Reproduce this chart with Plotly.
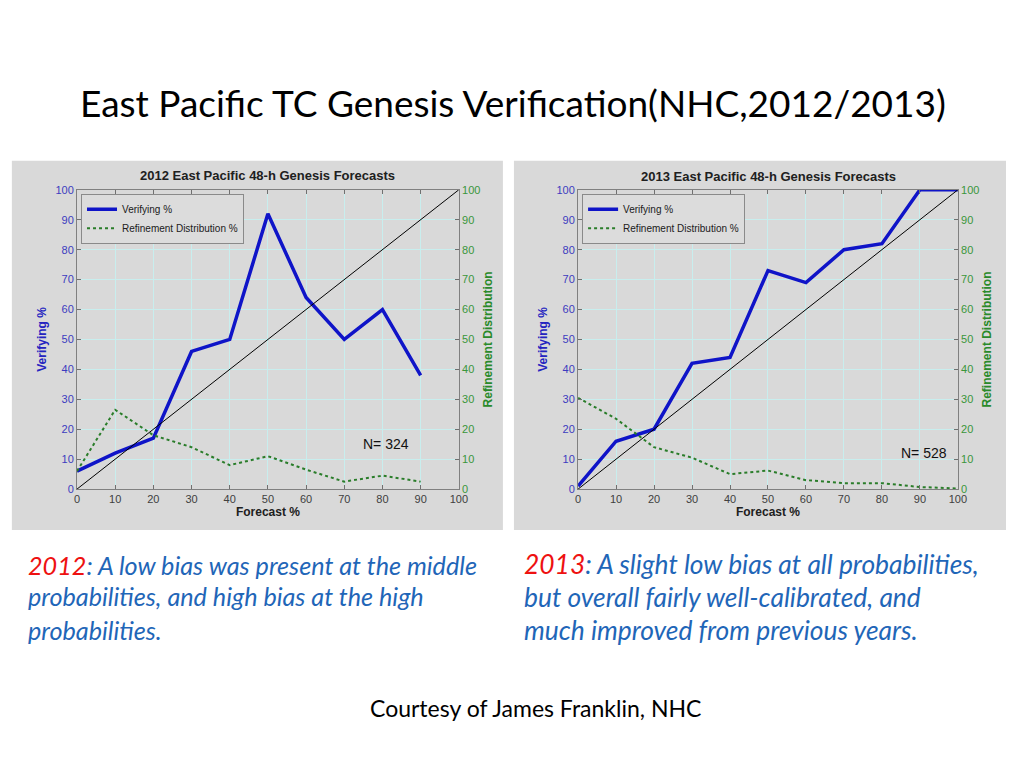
import plotly.graph_objects as go

# ---------------- data ----------------
forecast_2012 = [0, 10, 20, 30, 40, 50, 60, 70, 80, 90]
verifying_2012 = [6, 12, 17, 46, 50, 92, 64, 50, 60, 38]
refinement_2012 = [6, 26.5, 18, 14, 8, 11, 6.5, 2.5, 4.5, 2.5]

forecast_2013 = [0, 10, 20, 30, 40, 50, 60, 70, 80, 90, 100]
verifying_2013 = [1, 16, 20, 42, 44, 73, 69, 80, 82, 100, 100]
refinement_2013 = [30.5, 23.5, 14, 10.5, 5, 6.2, 3, 2, 2, 0.7, 0.2]

perfect = [0, 100]
tick_vals = list(range(0, 101, 10))

# ---------------- style ----------------
W, H = 1010, 740
SCALE = 0.986          # observed page-to-picture scale
OFFX, OFFY = 11.3, 13.0  # observed page offset of the figure
BLUE_LINE = "#0f14c8"
GREEN_LINE = "#2a7d2a"
BLUE_TXT = "#3c3cc0"
GREEN_TXT = "#3a963a"
CAP_BLUE = "#1f66b8"
ARIAL = "Liberation Sans, Arial, sans-serif"
CAL = "Lato, Open Sans, sans-serif"


def px_x(p):
    return (p / SCALE - OFFX) / W


def px_y(p):
    return 1 - (p / SCALE - OFFY) / H


fig = go.Figure()

panels = [
    dict(f=forecast_2012, v=verifying_2012, r=refinement_2012, xa="x", ya="y", ya2="y2", lg="legend"),
    dict(f=forecast_2013, v=verifying_2013, r=refinement_2013, xa="x2", ya="y3", ya2="y4", lg="legend2"),
]
for p in panels:
    fig.add_trace(go.Scatter(x=p["f"], y=p["v"], mode="lines", name="Verifying %",
                             line=dict(color=BLUE_LINE, width=3.5),
                             xaxis=p["xa"], yaxis=p["ya"], legend=p["lg"]))
    fig.add_trace(go.Scatter(x=p["f"], y=p["r"], mode="lines", name="Refinement Distribution %",
                             line=dict(color=GREEN_LINE, width=2, dash="dot"),
                             xaxis=p["xa"], yaxis=p["ya2"], legend=p["lg"]))
    fig.add_trace(go.Scatter(x=perfect, y=perfect, mode="lines", showlegend=False,
                             line=dict(color="black", width=1),
                             xaxis=p["xa"], yaxis=p["ya"]))

ydom = [px_y(489), px_y(189)]
xdom1 = [px_x(77), px_x(458)]
xdom2 = [px_x(577), px_x(956)]

GRID = "#c8eeee"
common_x = dict(range=[0, 100], tickvals=tick_vals, ticks="inside", ticklen=4,
                tickcolor="#707070", showline=True, linecolor="#808080", mirror="ticks",
                showgrid=True, gridcolor=GRID, gridwidth=1, zeroline=False,
                tickfont=dict(family=ARIAL, size=11, color="#404040"),
                title=dict(text="<b>Forecast %</b>", font=dict(family=ARIAL, size=12, color="#202020"),
                           standoff=2))
common_yl = dict(range=[0, 100], tickvals=tick_vals, ticks="inside", ticklen=4,
                 tickcolor="#707070", showline=True, linecolor="#808080",
                 showgrid=True, gridcolor=GRID, gridwidth=1, zeroline=False,
                 tickfont=dict(family=ARIAL, size=11, color=BLUE_TXT),
                 title=dict(text="<b>Verifying %</b>", font=dict(family=ARIAL, size=12, color="#2424c0"),
                            standoff=6))
common_yr = dict(range=[0, 100], tickvals=tick_vals, ticks="inside", ticklen=4,
                 tickcolor="#707070", showline=True, linecolor="#808080",
                 showgrid=False, zeroline=False, side="right",
                 tickfont=dict(family=ARIAL, size=11, color=GREEN_TXT),
                 title=dict(text="<b>Refinement Distribution</b>",
                            font=dict(family=ARIAL, size=12, color="#2a8a2a"), standoff=4))

legend_style = dict(bgcolor="#dcdcdc", bordercolor="#8a8a8a", borderwidth=1,
                    font=dict(family=ARIAL, size=10, color="#202020"),
                    xanchor="left", yanchor="top", tracegroupgap=0, itemwidth=30)


def ann(text, x, y, size, color, family=ARIAL, xanchor="center", xref="paper", yref="paper"):
    return dict(text=text, x=x, y=y, xref=xref, yref=yref, xanchor=xanchor, yanchor="middle",
                showarrow=False, font=dict(family=family, size=size, color=color))


annotations = [
    ann("<b>2012 East Pacific 48-h Genesis Forecasts</b>", px_x(267), px_y(175), 13, "#202020"),
    ann("<b>2013 East Pacific 48-h Genesis Forecasts</b>", px_x(767), px_y(176), 13, "#202020"),
    ann("N= 324", 81, 15, 14, "#111111", xref="x", yref="y"),
    ann("N= 528", 91, 12, 14, "#111111", xref="x2", yref="y3"),
    ann("East Pacific TC Genesis Verification(NHC,2012/2013)", px_x(512), px_y(102), 37, "black", family=CAL),
    ann("Courtesy of James Franklin, NHC", px_x(535), px_y(708), 23, "black", family=CAL),
]

captions = [
    (26, 565, 25.2, "<span style='color:#ee1111'>2012</span>: A low bias was present at the middle"),
    (26, 596, 25.2, "probabilities, and high bias at the high"),
    (26, 630, 25.2, "probabilities."),
    (521, 564, 26.4, "<span style='color:#ee1111'>2013</span>: A slight low bias at all probabilities,"),
    (521, 597, 26.4, "but overall fairly well-calibrated, and"),
    (521, 630, 26.4, "much improved from previous years."),
]
for cx, cy, size, txt in captions:
    annotations.append(ann("<i>" + txt + "</i>", px_x(cx), px_y(cy), size, CAP_BLUE,
                           family=CAL, xanchor="left"))

shapes = [
    dict(type="rect", xref="paper", yref="paper", x0=px_x(12), x1=px_x(502), y0=px_y(530), y1=px_y(160),
         fillcolor="#d9d9d9", line=dict(width=0), layer="below"),
    dict(type="rect", xref="paper", yref="paper", x0=px_x(513), x1=px_x(1004), y0=px_y(530), y1=px_y(160),
         fillcolor="#d9d9d9", line=dict(width=0), layer="below"),
]

fig.update_layout(
    width=W, height=H, margin=dict(l=0, r=0, t=0, b=0),
    paper_bgcolor="white", plot_bgcolor="#d0ffff",
    xaxis=dict(domain=xdom1, anchor="y", **common_x),
    yaxis=dict(domain=ydom, anchor="x", **common_yl),
    yaxis2=dict(overlaying="y", anchor="x", **common_yr),
    xaxis2=dict(domain=xdom2, anchor="y3", **common_x),
    yaxis3=dict(domain=ydom, anchor="x2", **common_yl),
    yaxis4=dict(overlaying="y3", anchor="x2", **common_yr),
    legend=dict(x=px_x(81), y=px_y(193), **legend_style),
    legend2=dict(x=px_x(581), y=px_y(193), **legend_style),
    annotations=annotations, shapes=shapes,
    showlegend=True,
)

fig.write_html("out.html")
